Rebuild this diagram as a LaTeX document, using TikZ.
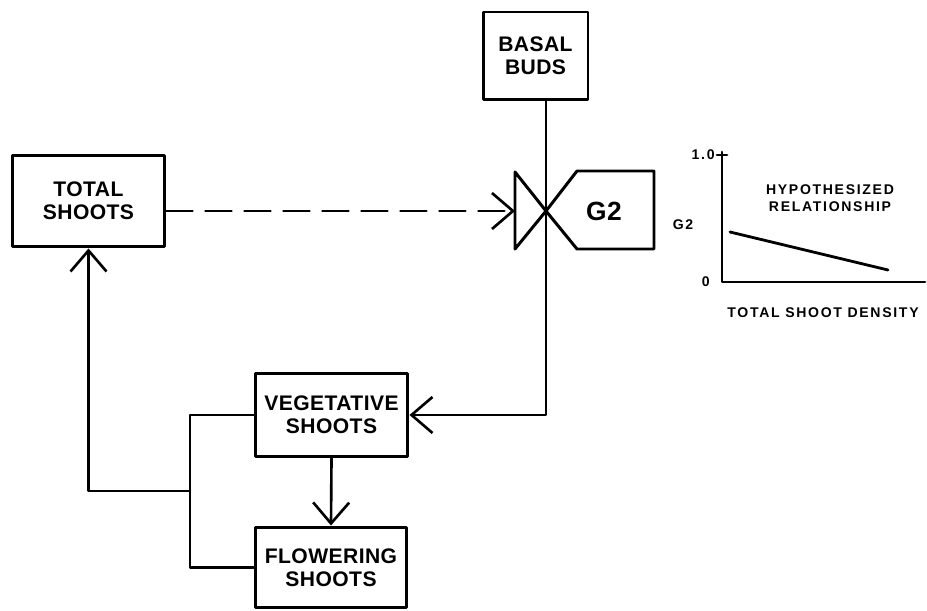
\documentclass[tikz,border=0pt]{standalone}
\usepackage{fontspec}
\newfontfamily\letterfont[LetterSpace=2]{Liberation Sans}
\newfontfamily\graphfont[LetterSpace=12]{Liberation Sans}
\usetikzlibrary{arrows.meta}

\begin{document}
\begin{tikzpicture}[x=0.02cm,y=-0.02cm,line cap=round,line join=round,
  box/.style={draw,line width=1.7pt,align=center,inner sep=0pt,font=\fontsize{12}{13}\letterfont\bfseries},
  flow/.style={line width=1.5pt,-{Straight Barb[length=0.42cm,width=0.72cm,line width=1.5pt]}},
  graphtext/.style={font=\fontsize{8}{9.6}\graphfont\bfseries,inner sep=0pt}]
\useasboundingbox (0,0) rectangle (927,611);
% compartments
\node[box,minimum width=3.06cm,minimum height=1.84cm] (total) at (88.5,201) {TOTAL\\SHOOTS};
\node[box,minimum width=2.1cm,minimum height=1.76cm] (buds) at (535.5,56) {BASAL\\BUDS};
\node[box,minimum width=3.06cm,minimum height=1.68cm] (veg) at (331.5,415) {VEGETATIVE\\SHOOTS};
\node[box,minimum width=3.04cm,minimum height=1.62cm] (flower) at (331,567.5) {FLOWERING\\SHOOTS};
% valve G2
\coordinate (valve) at (546,211);
\coordinate (valvein) at (515,211);
\draw[line width=1.7pt] (valve) -- (515,172) -- (515,249) -- cycle;
\draw[line width=1.7pt] (valve) -- (577,171) -- (654,171) -- (654,249) -- (577,249) -- cycle;
\node[font=\fontsize{15}{15}\letterfont\bfseries,inner sep=0pt] (gtwo) at (604,211) {G2};
% flows
\draw[flow] (buds.south -| valve) |- (veg.east);
\draw[flow,dash pattern=on 0.52cm off 0.26cm] (total.east |- valvein) -- (valvein);
\draw[flow] (veg.south) -- (flower.north);
\coordinate (join) at (190,491);
\draw[line width=1.5pt] (veg.west) -| (join) |- (flower.west);
\draw[flow] (join) -| (total.south);
% hypothesized relationship
\coordinate (origin) at (722,282);
\draw[line width=1.6pt] (722,152) -- (origin) -- (925,282);
\draw[line width=1.6pt] (717,155) -- (727,155);
\draw[line width=1.6pt] (730,232) -- (888,270);
\node[graphtext,anchor=east] (one) at (715,155) {1.0};
\node[graphtext,anchor=east] (zero) at (710,282) {0};
\node[graphtext] (glabel) at (683,225) {G2};
\node[graphtext,align=center] (hypo) at (830,198) {HYPOTHESIZED\\RELATIONSHIP};
\node[graphtext] (xlabel) at (823,313) {TOTAL SHOOT DENSITY};
\end{tikzpicture}
\end{document}
